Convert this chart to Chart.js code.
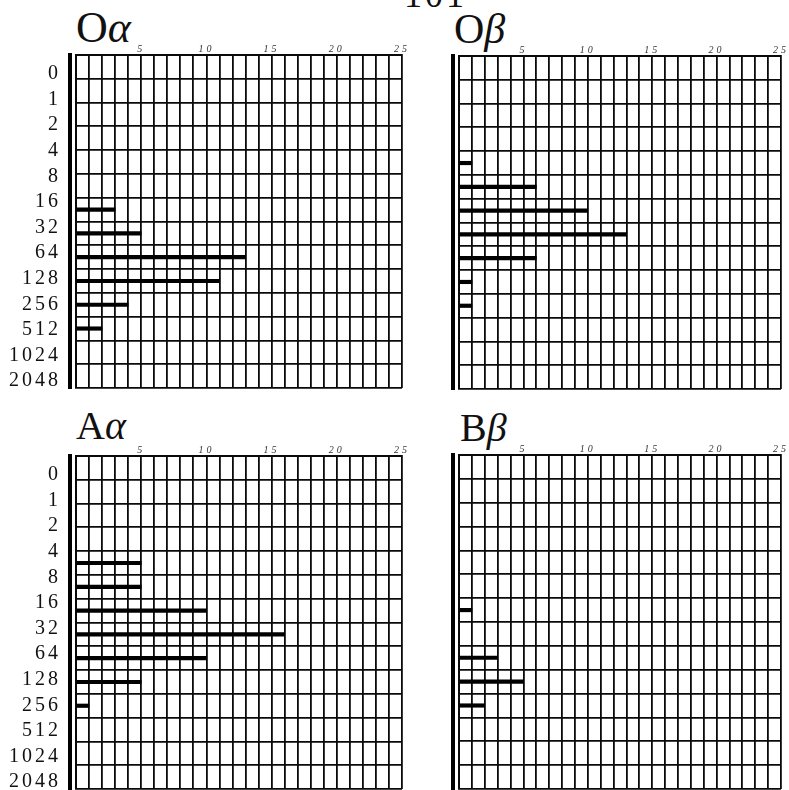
<!DOCTYPE html>
<html lang="en">

<head>
    <meta charset="UTF-8" />
    <title>Frequency tables</title>
    <script src="https://cdn.jsdelivr.net/npm/chart.js@4.4.1/dist/chart.umd.min.js"></script>
    <style type="text/css">
        body {
            margin: 0;
            background: #fff;
        }

        .page {
            position: relative;
            width: 789px;
            height: 790px;
            overflow: hidden;
            font-family: 'Liberation Serif', serif;
            color: #111;
        }

        .page canvas {
            position: absolute;
        }

        .title {
            position: absolute;
            font-size: 44px;
            line-height: 1;
            white-space: nowrap;
        }

        .title i {
            font-style: italic;
        }

        .pageno {
            position: absolute;
            left: 404px;
            top: -23px;
            font-size: 36px;
            line-height: 1;
            letter-spacing: 3px;
        }
    </style>
</head>

<body>
    <div class="page">
        <div class="pageno">101</div>

        <div class="title" style="left:76px; top:6px;">O<i>α</i></div>
        <div class="title" style="left:454px; top:8px; font-size:42px;">O<i>β</i></div>
        <div class="title" style="left:76px; top:406px; font-size:40px;">A<i>α</i></div>
        <div class="title" style="left:460px; top:408px; font-size:40px;">B<i>β</i></div>

        <canvas id="oAlpha" width="412" height="395" style="left:0; top:0;"></canvas>
        <canvas id="oBeta" width="389" height="395" style="left:400px; top:0;"></canvas>
        <canvas id="aAlpha" width="412" height="390" style="left:0; top:400px;"></canvas>
        <canvas id="bBeta" width="389" height="390" style="left:400px; top:400px;"></canvas>
    </div>

    <script>
        // row classes, one per band of the grid
        const rowLabels = ['0', '1', '2', '4', '8', '16', '32', '64', '128', '256', '512', '1024', '2048'];
        // numbered columns along the top
        const xLabels = [5, 10, 15, 20, 25];

        // counts (bar sits on the lower line of its row)
        const oAlpha = [0, 0, 0, 0, 0, 3, 5, 13, 11, 4, 2, 0, 0];
        const oBeta = [0, 0, 0, 1, 6, 10, 13, 6, 1, 1, 0, 0, 0];
        const aAlpha = [0, 0, 0, 5, 5, 10, 16, 10, 5, 1, 0, 0, 0];
        const bBeta = [0, 0, 0, 0, 0, 1, 0, 3, 5, 2, 0, 0, 0];

        const ink = '#0a0a0a';
        const serif = "'Liberation Serif', 'DejaVu Serif', serif";

        const spacing = {
            id: 'spacing',
            beforeDraw(chart) {
                chart.ctx.letterSpacing = '3px';
            }
        };

        function makePanel(id, values, showLabels, padding, labelWidth) {
            const ctx = document.getElementById(id).getContext('2d');
            return new Chart(ctx, {
                type: 'bar',
                data: {
                    labels: rowLabels,
                    datasets: [{
                        data: values.map((v, i) => ({ x: v, y: i + 1 })),
                        backgroundColor: '#000',
                        borderWidth: 0,
                        barThickness: 3.5
                    }]
                },
                options: {
                    indexAxis: 'y',
                    responsive: false,
                    animation: false,
                    events: [],
                    layout: { padding },
                    plugins: {
                        legend: { display: false },
                        tooltip: { enabled: false }
                    },
                    scales: {
                        x: {
                            type: 'linear',
                            position: 'top',
                            min: 0,
                            max: 25,
                            grid: { color: ink, lineWidth: 1.8, drawTicks: false },
                            border: { color: ink, width: 2 },
                            ticks: {
                                stepSize: 1,
                                autoSkip: false,
                                maxRotation: 0,
                                padding: 0,
                                color: '#333',
                                font: { family: serif, size: 10, style: 'italic' },
                                callback: v => xLabels.includes(v) ? String(v) : ''
                            },
                            afterFit(s) {
                                s.height = 14;
                                s.paddingLeft = 0;
                                s.paddingRight = 0;
                            }
                        },
                        y: {
                            type: 'linear',
                            position: 'left',
                            reverse: true,
                            min: 0,
                            max: 13,
                            weight: 0,
                            grid: { color: ink, lineWidth: 1.8, drawTicks: false },
                            border: { color: ink, width: 2 },
                            ticks: { display: false, stepSize: 1, autoSkip: false },
                            afterFit(s) {
                                s.width = 6;
                                s.paddingTop = 0;
                                s.paddingBottom = 0;
                            }
                        },
                        rows: {
                            type: 'category',
                            position: 'left',
                            offset: true,
                            weight: 1,
                            grid: { display: false },
                            border: { display: true, color: '#000', width: 4 },
                            ticks: {
                                display: showLabels,
                                autoSkip: false,
                                padding: 1,
                                labelOffset: 6,
                                color: '#111',
                                font: { family: serif, size: 20 }
                            },
                            afterFit(s) {
                                s.width = labelWidth;
                                s.paddingTop = 0;
                                s.paddingBottom = 0;
                            }
                        }
                    }
                },
                plugins: [spacing]
            });
        }

        makePanel('oAlpha', oAlpha, true, { left: 4, right: 10, top: 41, bottom: 7 }, 66);
        makePanel('oBeta', oBeta, false, { left: 0, right: 8, top: 42, bottom: 6 }, 53);
        makePanel('aAlpha', aAlpha, true, { left: 4, right: 10, top: 42, bottom: 1 }, 66);
        makePanel('bBeta', bBeta, false, { left: 0, right: 8, top: 41, bottom: 1 }, 53);
    </script>
</body>

</html>
